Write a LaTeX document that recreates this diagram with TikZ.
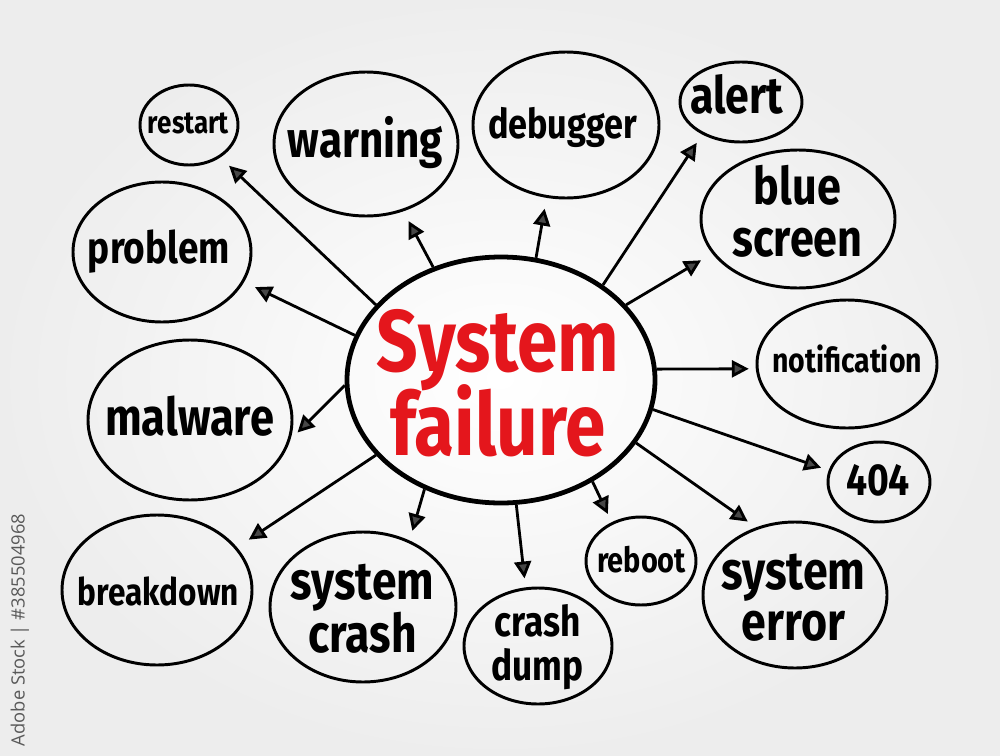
\documentclass[tikz,border=0pt]{standalone}
\usepackage{fontspec}
\setmainfont{Fira Sans}
\newfontfamily\wmfont{Open Sans}
\usetikzlibrary{shapes.geometric,arrows.meta}
\newlength\px \setlength\px{0.025cm}
\definecolor{sfred}{RGB}{228,22,28}
\newcommand\lab[3][10pt]{\resizebox{#2\px}{!}{\scalebox{1}[1.2]{\fontsize{10}{#1}\selectfont\bfseries\lineskiplimit=-100pt\let\\\cr\vbox{\halign{\hfil##\hfil\cr#3\crcr}}}}}
\begin{document}
\begin{tikzpicture}[x=0.025cm,y=-0.025cm,
  bubble/.style={ellipse, draw=black, line width=2.1pt, inner sep=0pt},
  txt/.style={inner sep=0pt, anchor=base},
  arr/.style={line width=2pt, -{Triangle[length=12pt,width=12pt,fill=black!72]}}]
\useasboundingbox (0,0) rectangle (1000,756);
\shade[inner color=white, outer color=black!7] (0,0) rectangle (1000,756);
\node[rotate=90, text=black!65, font=\wmfont, inner sep=0pt] (wm) at (20,630) {\resizebox{232\px}{!}{Adobe Stock | \#385504968}};
% centre
\node[bubble, line width=3.4pt, minimum width=308\px, minimum height=246\px] (c) at (501,380) {};
\node[txt, text=sfred] (ct) at (498,455) {\lab[9.6pt]{242}{System\\failure}};
% satellites
\node[bubble, minimum width=98\px, minimum height=80\px] (restart) at (189,125) {};
\node[txt] (restart-t) at (188.5,133) {\lab{81}{restart}};
\node[bubble, minimum width=184\px, minimum height=144\px] (warning) at (366,144) {};
\node[txt] (warning-t) at (365.5,157) {\lab{155}{warning}};
\node[bubble, minimum width=186\px, minimum height=146\px] (debugger) at (566,125) {};
\node[txt] (debugger-t) at (562.5,138) {\lab{149}{debugger}};
\node[bubble, minimum width=122\px, minimum height=80\px] (alert) at (741,102) {};
\node[txt] (alert-t) at (736.5,113) {\lab{93}{alert}};
\node[bubble, minimum width=194\px, minimum height=138\px] (bluescreen) at (798,219) {};
\node[txt] (bluescreen-t) at (797.5,256) {\lab[10pt]{130}{blue\\screen}};
\node[bubble, minimum width=178\px, minimum height=140\px] (problem) at (162,252) {};
\node[txt] (problem-t) at (159,263) {\lab{142}{problem}};
\node[bubble, minimum width=180\px, minimum height=128\px] (notification) at (847,364) {};
\node[txt] (notification-t) at (847,372) {\lab{150}{notification}};
\node[bubble, minimum width=204\px, minimum height=160\px] (malware) at (190,420) {};
\node[txt] (malware-t) at (189.5,435) {\lab{169}{malware}};
\node[bubble, minimum width=102\px, minimum height=80\px] (e404) at (879,482) {};
\node[txt] (e404-t) at (878,495) {\lab{64}{404}};
\node[bubble, minimum width=190\px, minimum height=150\px] (breakdown) at (157,590) {};
\node[txt] (breakdown-t) at (158.5,605) {\lab{161}{breakdown}};
\node[bubble, minimum width=186\px, minimum height=150\px] (syscrash) at (363,607) {};
\node[txt] (syscrash-t) at (362.5,652) {\lab[9.8pt]{143}{system\\crash}};
\node[bubble, minimum width=148\px, minimum height=116\px] (crashdump) at (538,646) {};
\node[txt] (crashdump-t) at (537.5,680) {\lab[10.2pt]{92}{crash\\dump}};
\node[bubble, minimum width=110\px, minimum height=88\px] (reboot) at (641,561) {};
\node[txt] (reboot-t) at (641.5,572) {\lab{89}{reboot}};
\node[bubble, minimum width=184\px, minimum height=146\px] (syserror) at (795,595) {};
\node[txt] (syserror-t) at (793.5,640) {\lab[9.4pt]{144}{system\\error}};
% connectors
\draw[arr, shorten >=12\px] (c.149) -- (restart.314);
\draw[arr, shorten >=11\px] (c.121) -- (warning.299);
\draw[arr, shorten >=11\px] (c.74) -- (debugger.255);
\draw[arr, shorten >=10\px] (c.43) -- (alert.220);
\draw[arr, shorten >=13\px] (c.31) -- (bluescreen.202);
\draw[arr, shorten >=12\px] (c.163) -- (problem.340);
\draw[arr, shorten >=7\px] (c.4) -- (notification.183);
\draw[arr, shorten >=10\px] (c.182) -- (malware.349);
\draw[arr, shorten >=8\px] (c.349) -- (e404.167);
\draw[arr, shorten >=14\px] (c.211) -- (breakdown.28);
\draw[arr, shorten >=10\px] (c.235) -- (syscrash.55);
\draw[arr, shorten >=9\px] (c.277) -- (crashdump.102);
\draw[arr, shorten >=9\px] (c.312) -- (reboot.127);
\draw[arr, shorten >=10\px] (c.335) -- (syserror.120);
\end{tikzpicture}
\end{document}
